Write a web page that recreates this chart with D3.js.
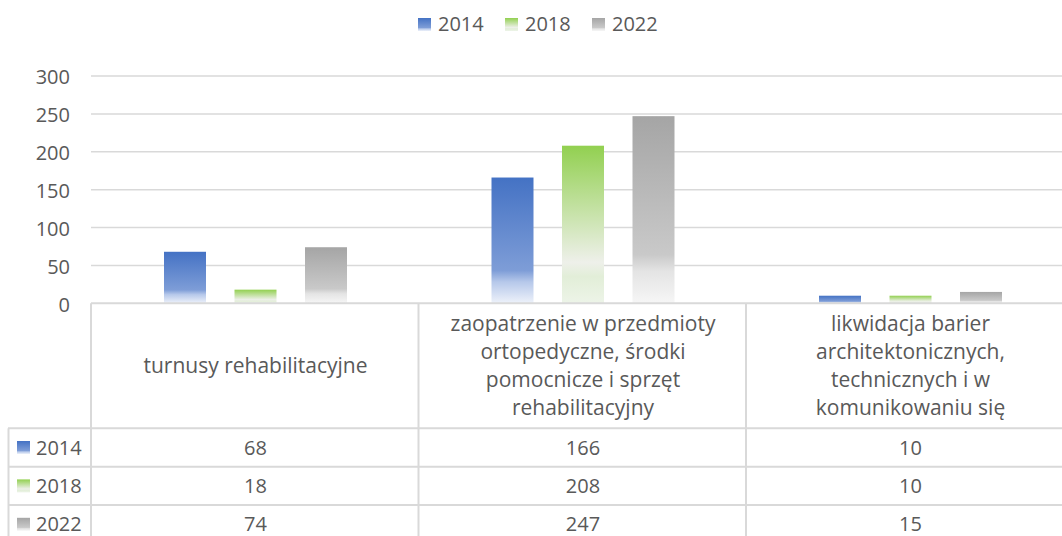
<!DOCTYPE html>
<html>
<head>
<meta charset="utf-8">
<script src="https://cdn.jsdelivr.net/npm/d3@7"></script>
<style>
  html, body { margin: 0; padding: 0; background: #fff; }
  svg { display: block; font-family: "Open Sans", Lato, sans-serif; }
</style>
</head>
<body>
<svg id="chart" width="1062" height="536"></svg>
<script>
// ---- data ----
const categories = [
  "turnusy rehabilitacyjne",
  "zaopatrzenie w przedmioty ortopedyczne, środki pomocnicze i sprzęt rehabilitacyjny",
  "likwidacja barier architektonicznych, technicznych i w komunikowaniu się"
];
const categoryLines = [
  ["turnusy rehabilitacyjne"],
  ["zaopatrzenie w przedmioty", "ortopedyczne, środki", "pomocnicze i sprzęt", "rehabilitacyjny"],
  ["likwidacja barier", "architektonicznych,", "technicznych i w", "komunikowaniu się"]
];
const seriesNames = ["2014", "2018", "2022"];
const values2014 = [68, 166, 10];
const values2018 = [18, 208, 10];
const values2022 = [74, 247, 15];
const yTicks = [0, 50, 100, 150, 200, 250, 300];

const seriesValues = [values2014, values2018, values2022];
const gradStops = [
  ["#4472c4", "#7e9dd7", "#b6c8ea", "#eef2fa"],
  ["#92d050", "#eef0ea", "#e2eed8", "#edf4e8"],
  ["#a5a5a5", "#c9c9c9", "#e4e4e4", "#f6f6f6"]
];
const stopOffsets = [0, 0.74, 0.83, 1];

const svg = d3.select("#chart");
const textColor = "#595959";
const lineColor = "#d9d9d9";
const fontFamily = "'Open Sans', Lato, sans-serif";

// gradients
const defs = svg.append("defs");
seriesNames.forEach((s, i) => {
  const g = defs.append("linearGradient")
    .attr("id", "grad" + i)
    .attr("x1", 0).attr("y1", 0).attr("x2", 0).attr("y2", 1);
  stopOffsets.forEach((o, k) => {
    g.append("stop").attr("offset", o).attr("stop-color", gradStops[i][k]);
  });
});

// scales
const x0 = d3.scaleBand().domain(categories).range([91.75, 1074.25]).paddingInner(0).paddingOuter(0);
const x1 = d3.scaleBand().domain(seriesNames).range([58, 269.5]).paddingInner(28.5 / 70.5).paddingOuter(14.25 / 70.5);
const y = d3.scaleLinear().domain([0, 300]).range([303.3, 76]);

// gridlines
svg.append("g").selectAll("line").data(yTicks.filter(t => t > 0)).join("line")
  .attr("x1", 91).attr("x2", 1062)
  .attr("y1", d => y(d)).attr("y2", d => y(d))
  .attr("stroke", lineColor).attr("stroke-width", 1.5);

// y axis labels
const yAxis = d3.axisLeft(y).tickValues(yTicks).tickSize(0).tickPadding(0);
const ya = svg.append("g").attr("transform", "translate(70,1.5)").call(yAxis);
ya.select(".domain").remove();
ya.selectAll("text").attr("fill", textColor).style("font-size", "20px").style("font-family", fontFamily);

// bars
const groups = svg.append("g").selectAll("g").data(categories).join("g")
  .attr("transform", d => `translate(${x0(d)},0)`);
groups.selectAll("rect")
  .data((d, ci) => seriesNames.map((s, si) => ({ s, si, v: seriesValues[si][ci] })))
  .join("rect")
  .attr("x", d => x1(d.s))
  .attr("width", x1.bandwidth())
  .attr("y", d => y(d.v))
  .attr("height", d => y(0) - y(d.v))
  .attr("fill", d => `url(#grad${d.si})`);

// legend
const legendX = [418, 505, 592];
const legend = svg.append("g").selectAll("g").data(seriesNames).join("g")
  .attr("transform", (d, i) => `translate(${legendX[i]},0)`);
legend.append("rect").attr("x", 0).attr("y", 18).attr("width", 13).attr("height", 13)
  .attr("fill", (d, i) => `url(#grad${i})`);
legend.append("text").attr("x", 20).attr("y", 24).attr("dy", "0.35em")
  .attr("fill", textColor).style("font-size", "20px").text(d => d);

// data table
const table = svg.append("g");
const headerTop = 303.3, headerBottom = 428.3, rowH = 38.4;
const colEdges = categories.map(c => x0(c)).concat([x0.range()[1]]);
table.append("line").attr("x1", 91).attr("x2", 1062).attr("y1", headerTop).attr("y2", headerTop)
  .attr("stroke", lineColor).attr("stroke-width", 2);
[0, 1, 2, 3].forEach(r => {
  const yy = headerBottom + r * rowH;
  table.append("line").attr("x1", 8).attr("x2", 1062).attr("y1", yy).attr("y2", yy)
    .attr("stroke", lineColor).attr("stroke-width", 2);
});
colEdges.forEach(cx => {
  table.append("line").attr("x1", cx - 0.75).attr("x2", cx - 0.75).attr("y1", headerTop).attr("y2", 536)
    .attr("stroke", lineColor).attr("stroke-width", 2);
});
table.append("line").attr("x1", 8.5).attr("x2", 8.5).attr("y1", headerBottom).attr("y2", 536)
  .attr("stroke", lineColor).attr("stroke-width", 2);

// header text
const headerMid = (headerTop + headerBottom) / 2;
const lineH = 28;
categories.forEach((c, ci) => {
  const lines = categoryLines[ci];
  const cx = x0(c) + x0.bandwidth() / 2;
  const t = table.append("text").attr("text-anchor", "middle").attr("fill", textColor).style("font-size", "21px");
  lines.forEach((ln, li) => {
    t.append("tspan").attr("x", cx)
      .attr("y", headerMid + (li - (lines.length - 1) / 2) * lineH)
      .attr("dy", "0.35em").text(ln);
  });
});

// rows
seriesNames.forEach((s, si) => {
  const cy = headerBottom + si * rowH + rowH / 2;
  table.append("rect").attr("x", 17).attr("y", cy - 6.5).attr("width", 13).attr("height", 13)
    .attr("fill", `url(#grad${si})`);
  table.append("text").attr("x", 36).attr("y", cy).attr("dy", "0.35em")
    .attr("fill", textColor).style("font-size", "20px").text(s);
  categories.forEach((c, ci) => {
    table.append("text").attr("x", x0(c) + x0.bandwidth() / 2).attr("y", cy).attr("dy", "0.35em")
      .attr("text-anchor", "middle").attr("fill", textColor).style("font-size", "20px")
      .text(seriesValues[si][ci]);
  });
});
</script>
</body>
</html>
